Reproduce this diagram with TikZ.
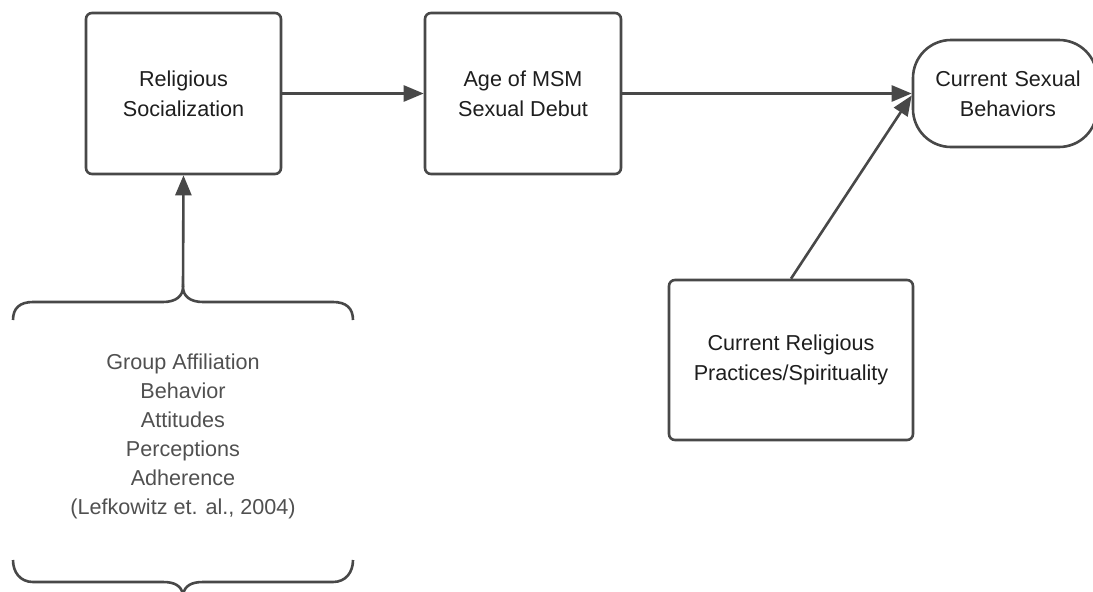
\documentclass[tikz,border=0pt]{standalone}
\usepackage{fontspec}
\setmainfont{Liberation Sans}
\usetikzlibrary{arrows.meta}
\definecolor{linegray}{HTML}{484848}
\definecolor{textdark}{HTML}{1E1E1E}
\definecolor{textgray}{HTML}{505050}
\begin{document}
\begin{tikzpicture}[x=1pt,y=-1pt,
  boxnode/.style={draw=linegray, line width=2.6pt, rounded corners=6pt, fill=white,
    align=center, font=\fontsize{21.6}{30}\selectfont, text=textdark, inner sep=0pt},
  conn/.style={draw=linegray, line width=2.6pt, -{Triangle[length=20pt,width=16pt]}},
  bracepath/.style={draw=linegray, line width=2.6pt},
  listtext/.style={align=center, font=\fontsize{21.6}{29}\selectfont, text=textgray}]
\useasboundingbox (0,0) rectangle (1093,592);

\node[boxnode, minimum width=195pt, minimum height=161pt] (rs) at (183.5,93.5) {Religious\\Socialization};
\node[boxnode, minimum width=196pt, minimum height=161pt] (age) at (523,93.5) {Age of MSM\\Sexual Debut};
\node[boxnode, minimum width=244pt, minimum height=160pt] (crp) at (791,360) {Current Religious\\Practices/Spirituality};
\node[boxnode, rounded corners=38pt, minimum width=184pt, minimum height=107pt, text width=184pt] (csb) at (1005,93.5) {\hspace*{6pt}Current Sexual\\\hspace*{6pt}Behaviors};

% braces
\coordinate (toptip) at (183,287);
\coordinate (bottip) at (183,594);
\draw[bracepath] (13,320) .. controls (13,308) and (20,302) .. (33,302) -- (163,302)
  .. controls (176,302) and (183,296) .. (toptip)
  .. controls (183,296) and (190,302) .. (203,302) -- (333,302)
  .. controls (346,302) and (353,308) .. (353,320);
\draw[bracepath] (13,560) .. controls (13,572) and (20,582) .. (33,582) -- (163,582)
  .. controls (175,582) and (181,586) .. (bottip)
  .. controls (185,586) and (191,582) .. (203,582) -- (333,582)
  .. controls (346,582) and (353,572) .. (353,560);

\node[listtext] (list) at (183,436) {Group Affiliation\\Behavior\\Attitudes\\Perceptions\\Adherence\\(Lefkowitz et. al., 2004)};

% connectors
\draw[conn] (toptip) -- (rs.south);
\draw[conn] (rs.east) -- (age.west);
\draw[conn] (age.east) -- (csb.west);
\draw[conn] (crp.north) -- ([yshift=-2pt]csb.west);
\end{tikzpicture}
\end{document}
